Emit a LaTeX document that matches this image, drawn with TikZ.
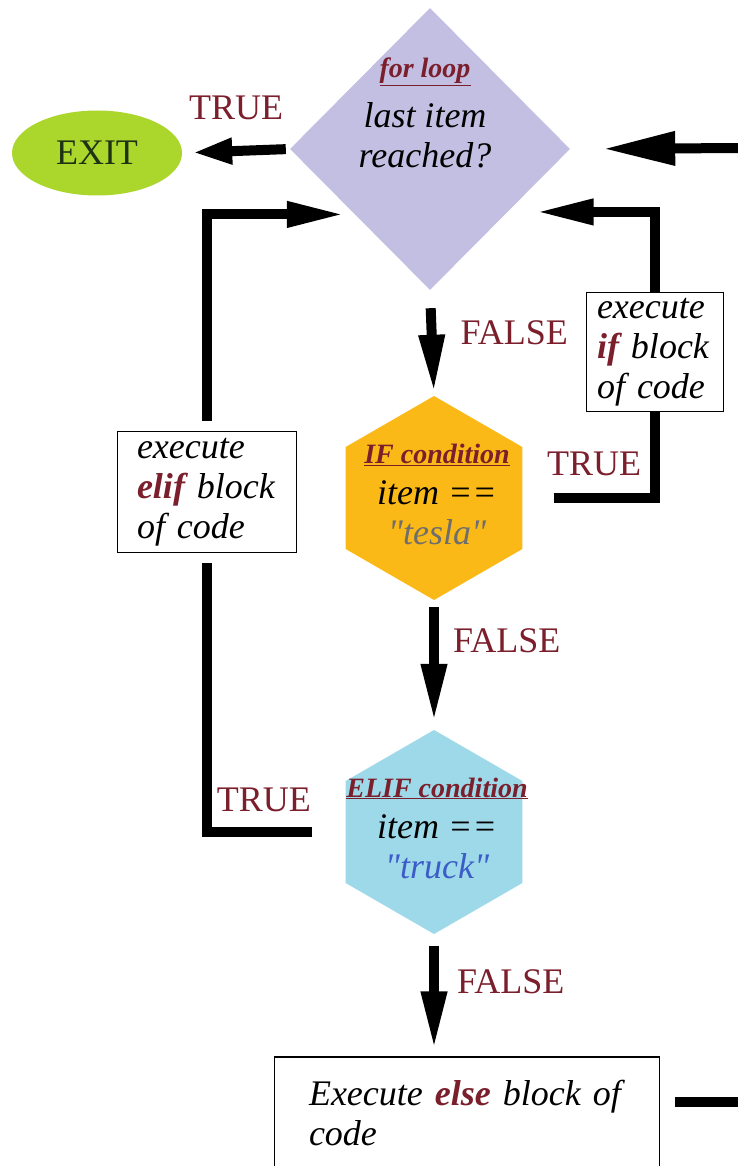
\documentclass[tikz,border=0pt]{standalone}
\usepackage{fontspec}
\setmainfont{LiberationSerif}[Extension=.ttf, UprightFont=*-Regular, BoldFont=*-Bold,
  ItalicFont=*-Italic, BoldItalicFont=*-BoldItalic]
\newfontfamily\quotefont{LiberationSerif}[Extension=.ttf, UprightFont=*-Regular,
  ItalicFont=*-Italic]
\usetikzlibrary{arrows.meta, positioning, shapes.geometric}
\definecolor{fmaroon}{HTML}{7A1F2B}
\definecolor{flavender}{HTML}{C3BFE2}
\definecolor{fexit}{HTML}{ABD62B}
\definecolor{fexittext}{HTML}{1E3214}
\definecolor{fif}{HTML}{FBB917}
\definecolor{felif}{HTML}{9DD9E9}
\definecolor{ftesla}{HTML}{6E6E6E}
\definecolor{ftruck}{HTML}{3C5CC8}
\newcommand{\bigtext}{\fontsize{36}{40}\selectfont}
\newcommand{\headtext}{\fontsize{28}{32}\selectfont\bfseries\itshape\color{fmaroon}}
\newcommand{\kw}[1]{{\bfseries\color{fmaroon}#1}}
\tikzset{
  decbox/.style={diamond, fill=flavender, minimum width=280pt, minimum height=282pt, inner sep=0pt},
  hexbox/.style={regular polygon, regular polygon sides=6, shape border rotate=30,
                 minimum size=204pt, inner sep=0pt},
  codebox/.style={draw=black, line width=1.4pt, fill=white, inner sep=0pt,
                  align=left, font=\bigtext\itshape},
  condtext/.style={align=center, inner sep=0pt, font=\bigtext\itshape},
  tflabel/.style={text=fmaroon, font=\bigtext, inner sep=0pt},
  flow/.style={line width=10pt},
  arr/.style={flow, -{Triangle[length=58pt,width=24pt]}},
  bigarr/.style={flow, -{Triangle[length=72pt,width=32pt]}},
}

\begin{document}
\begin{tikzpicture}[x=1pt, y=-1pt]
  \useasboundingbox (0,0) rectangle (738,1166);
  \fill[white] (0,0) rectangle (738,1166);

  % decision shapes
  \node[decbox] (loopcond) at (430,149) {};
  \node[condtext] (looptext) at (425,113)
    {{\headtext\underline{for loop}}\\[10pt]last item\\reached?};

  \node[ellipse, fill=fexit, minimum width=170pt, minimum height=85pt,
        inner sep=0pt, font=\bigtext, text=fexittext] (exitnode) at (97,153) {EXIT};

  \node[hexbox, fill=fif] (ifcond) at (434,498) {};
  \node[condtext] (iftext) at (437,494)
    {{\headtext\underline{IF condition}}\\[1pt]item ==\\{\quotefont\itshape\color{ftesla}"tesla"}};

  \node[hexbox, fill=felif] (elifcond) at (434,832) {};
  \node[condtext] (eliftext) at (437,828)
    {{\headtext\underline{ELIF condition}}\\[1pt]item ==\\{\quotefont\itshape\color{ftruck}"truck"}};

  % code blocks
  \node[codebox, minimum width=137pt, minimum height=119pt, text width=116pt]
    (ifblock) at (655,352) {execute\\\kw{if} block\\of code};
  \node[codebox, minimum width=179pt, minimum height=121pt, text width=140pt]
    (elifblock) at (207,492) {execute\\\kw{elif} block\\of code};
  \node[codebox, minimum width=385pt, minimum height=112pt, text width=316pt]
    (elseblock) at (467,1113) {Execute \kw{else} block of\\code};

  \coordinate (loopin) at (745,148);
  \coordinate (elseout) at (745,1102);

  % connectors
  \draw[flow, -{Triangle[length=40pt,width=24pt]}, shorten <=4pt, shorten >=10pt]
    (loopcond.west) -- (exitnode.east)
    node[tflabel, midway, above=26pt] (exittrue) {TRUE};
  \draw[bigarr, shorten >=33pt] (loopin) -- (loopcond.east);

  \draw[arr, shorten <=18pt, shorten >=3pt] (loopcond.south) -- (ifcond.north)
    node[tflabel, pos=0.4, right=24pt] (loopfalse) {FALSE};
  \draw[arr, shorten <=7pt, shorten >=8pt] (ifcond.south) -- (elifcond.north)
    node[tflabel, pos=0.31, right=14pt] (iffalse) {FALSE};
  \draw[arr, shorten <=12pt, shorten >=7pt] (elifcond.south) -- (elifcond.south |- elseblock.north)
    node[tflabel, pos=0.39, right=18pt] (eliffalse) {FALSE};

  \draw[flow] ([xshift=31pt]ifcond.east) -| (ifblock.south)
    node[tflabel, pos=0.2, above=17pt] (iftrue) {TRUE};
  \draw[arr, shorten >=28pt] (ifblock.north) |- (loopcond.-39);

  \draw[flow] ([xshift=-33pt]elifcond.west) -| ([yshift=-10pt]elifblock.south)
    node[tflabel, pos=0.23, above=15pt] (eliftrue) {TRUE};
  \draw[arr, shorten >=10pt] ([yshift=10pt]elifblock.north) |- (loopcond.221);

  \draw[flow] ([xshift=15pt]elseblock.east |- elseout) -- (elseout);
\end{tikzpicture}
\end{document}
